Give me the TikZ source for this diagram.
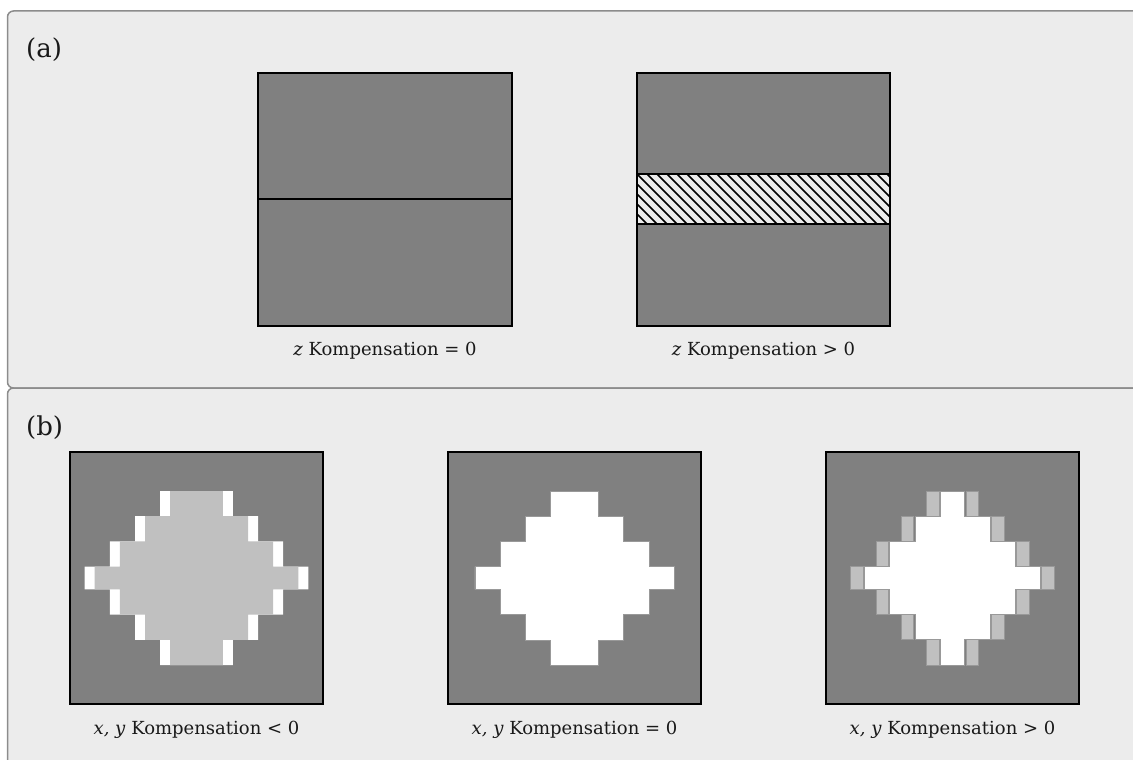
\documentclass[tikz,border=0pt]{standalone}
\usepackage{fontspec}
\setmainfont{DejaVu Serif}
\definecolor{panelbg}{HTML}{ECECEC}
\definecolor{panelline}{HTML}{8C8C8C}
\definecolor{darkfill}{HTML}{808080}
\definecolor{lightg}{HTML}{C0C0C0}
\definecolor{edgeg}{HTML}{999999}
\newcommand\stairshape[2]{%
 \pgfmathsetmacro\wA{#2+75.6}\pgfmathsetmacro\wB{#2+50.4}\pgfmathsetmacro\wC{#2+25.2}\pgfmathsetmacro\wD{#2}%
 \path[#1] (-\wA,11.4) -- (-\wA,-11.4) -- (-\wB,-11.4) -- (-\wB,-36.6) -- (-\wC,-36.6) -- (-\wC,-61.8) -- (-\wD,-61.8) -- (-\wD,-87) -- (\wD,-87) -- (\wD,-61.8) -- (\wC,-61.8) -- (\wC,-36.6) -- (\wB,-36.6) -- (\wB,-11.4) -- (\wA,-11.4) -- (\wA,11.4) -- (\wB,11.4) -- (\wB,36.6) -- (\wC,36.6) -- (\wC,61.8) -- (\wD,61.8) -- (\wD,87) -- (-\wD,87) -- (-\wD,61.8) -- (-\wC,61.8) -- (-\wC,36.6) -- (-\wB,36.6) -- (-\wB,11.4) -- cycle;}
\begin{document}
\begin{tikzpicture}[x=1pt,y=-1pt,
  panel/.style={fill=panelbg,draw=panelline,line width=1.5pt,rounded corners=6pt},
  block/.style={fill=darkfill,draw=black,line width=1.8pt},
  capt/.style={anchor=base,font=\fontsize{18}{21}\selectfont,inner sep=0pt,text=black!90},
  tagl/.style={anchor=base west,font=\fontsize{26}{30}\selectfont,inner sep=0pt,text=black!90},
  sliver/.style={fill=lightg,draw=edgeg,line width=0.8pt},
  hatchline/.style={line width=1.6pt}]
\useasboundingbox (0,0) rectangle (1133,760);
\clip (0,0) rectangle (1133,760);
% panels
\draw[panel] (7.5,11) rectangle (1150,388);
\draw[panel] (7.5,388) rectangle (1150,790);
\node[tagl] (taga) at (26,58) {(a)};
\node[tagl] (tagb) at (26,435) {(b)};
% (a) left square
\draw[block] (258,73) rectangle (512,199);
\draw[block] (258,199) rectangle (512,326);
% (a) right square
\draw[block] (637,73) rectangle (890,174);
\draw[block] (637,224) rectangle (890,326);
\fill[panelbg] (637,174) rectangle (890,224);
\begin{scope}
\clip (637,174) rectangle (890,224);
\foreach \i in {-60,-50,...,260} \draw[hatchline] (637+\i,174) -- ++(50,50);
\end{scope}
\draw[line width=1.8pt] (637,174) rectangle (890,224);
\node[capt] (capa1) at (385,355) {\textit{z} Kompensation = 0};
\node[capt] (capa2) at (763.5,355) {\textit{z} Kompensation > 0};
% (b) squares
\foreach \cx in {196.5,574.5,952.5} \draw[block] (\cx-126.5,452) rectangle (\cx+126.5,704);
% left diamond (< 0)
\begin{scope}[shift={(196.5,578)}]
\stairshape{fill=white}{36.3}
\stairshape{fill=lightg}{26.3}
\end{scope}
% middle diamond (= 0)
\begin{scope}[shift={(574.5,578)}]
\stairshape{fill=white,draw=edgeg,line width=0.6pt}{24}
\end{scope}
% right diamond (> 0)
\begin{scope}[shift={(952.5,578)}]
\stairshape{fill=white,draw=edgeg,line width=0.8pt}{12.3}
\foreach \w/\ya/\yb in {87.9/-11.4/11.4, 62.7/-36.6/-11.4, 62.7/11.4/36.6, 37.5/-61.8/-36.6, 37.5/36.6/61.8, 12.3/-87/-61.8, 12.3/61.8/87} {
  \draw[sliver] (\w+1.2,\ya) rectangle (\w+13.9,\yb);
  \draw[sliver] (-\w-1.2,\ya) rectangle (-\w-13.9,\yb);
}
\end{scope}
\node[capt] (capb1) at (196.5,734) {\textit{x, y} Kompensation < 0};
\node[capt] (capb2) at (574.5,734) {\textit{x, y} Kompensation = 0};
\node[capt] (capb3) at (952.5,734) {\textit{x, y} Kompensation > 0};
\end{tikzpicture}
\end{document}
